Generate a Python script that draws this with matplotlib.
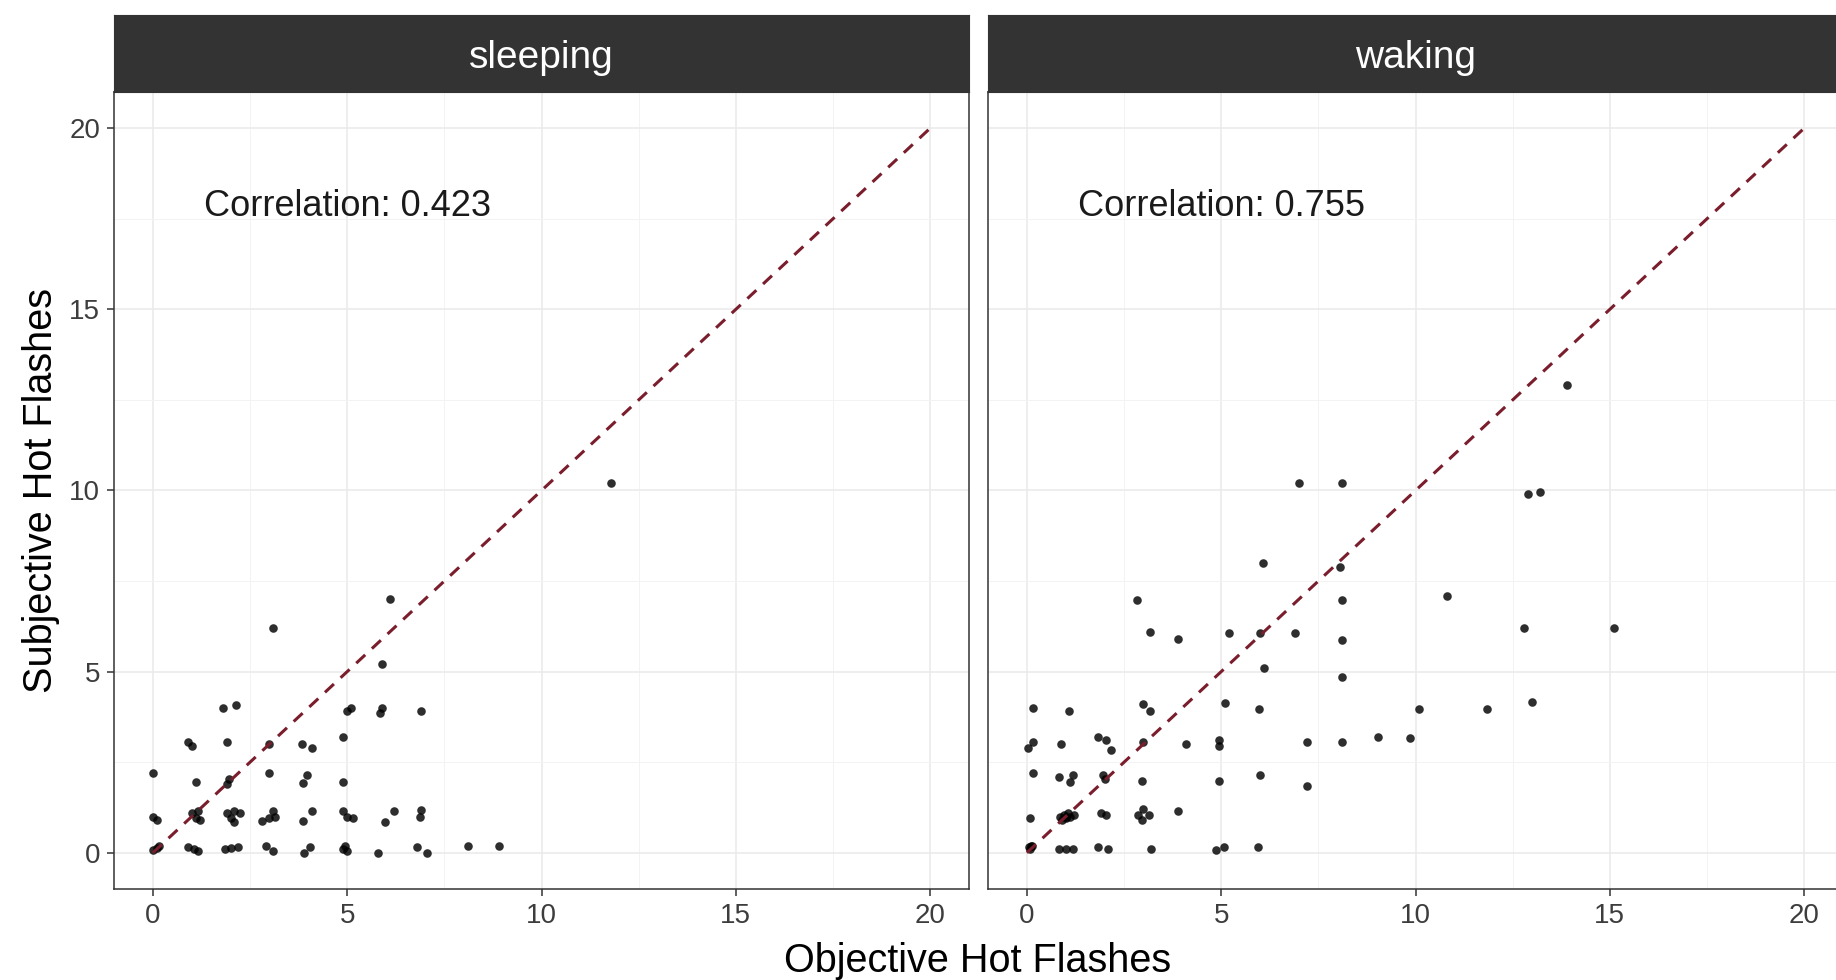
import matplotlib
matplotlib.use('Agg')
import matplotlib.pyplot as plt
from matplotlib.ticker import MultipleLocator

plt.rcParams['font.family'] = ['Liberation Sans', 'DejaVu Sans']

# sleeping panel (jittered points)
sleep_obj = [6.1, 3.1, 5.9, 1.8, 2.15, 5.0, 5.1, 5.9, 5.85, 6.9,
             0.9, 1.0, 1.9, 3.0, 3.85, 4.1, 4.9, 0.0, 1.1, 1.95,
             1.9, 3.0, 3.97, 3.87, 4.9, 0.0, 0.1, 1.0, 1.15, 1.2,
             1.1, 1.9, 2.1, 2.25, 2.0, 2.1, 2.8, 3.0, 3.1, 3.15,
             3.87, 4.1, 4.9, 5.0, 5.15, 5.97, 6.2, 6.9, 6.88,
             0.0, 0.1, 0.15, 0.9, 1.05, 1.15, 1.85, 2.0, 2.2, 2.9, 3.1,
             3.9, 4.05, 4.9, 4.95, 5.0, 5.8, 6.8, 7.05, 8.1, 8.9, 11.8]
sleep_subj = [7.0, 6.2, 5.2, 4.0, 4.07, 3.9, 4.0, 4.0, 3.85, 3.9,
              3.05, 2.95, 3.05, 3.0, 3.0, 2.9, 3.2, 2.2, 1.95, 2.05,
              1.9, 2.2, 2.15, 1.92, 1.95, 0.98, 0.9, 1.1, 1.15, 0.9,
              0.95, 1.1, 1.15, 1.1, 0.95, 0.85, 0.88, 0.95, 1.15, 1.0,
              0.87, 1.15, 1.15, 0.98, 0.97, 0.84, 1.15, 1.17, 0.98,
              0.08, 0.12, 0.18, 0.15, 0.1, 0.05, 0.1, 0.12, 0.15, 0.2, 0.05,
              0.0, 0.15, 0.1, 0.2, 0.05, 0.0, 0.15, 0.0, 0.2, 0.2, 10.2]

# waking panel
wake_obj = [6.07, 8.05, 2.83, 8.1, 10.8, 3.17, 3.9, 5.2, 6.0, 6.9,
            8.1, 6.1, 8.1, 0.15, 1.08, 3.0, 3.17, 5.1, 5.97, 10.1,
            11.85, 0.03, 0.15, 0.87, 1.83, 2.03, 2.16, 3.0, 4.1, 4.95,
            4.95, 7.2, 8.1, 9.03, 9.87, 0.17, 0.83, 1.18, 1.12, 2.0,
            1.95, 2.96, 4.95, 6.0, 7.2, 0.08,
            0.85, 0.95, 1.0, 1.05, 1.1, 1.2, 0.9, 1.0,
            1.9, 2.03, 2.85, 2.95, 3.0, 3.15, 3.9,
            0.05, 0.1, 0.08, 0.12, 0.83, 1.0, 1.18, 1.83, 2.1, 3.2,
            4.87, 5.07, 5.95, 12.8, 15.1, 13.0, 7.0, 8.1, 12.9, 13.2, 13.9]
wake_subj = [8.0, 7.9, 6.97, 6.97, 7.1, 6.1, 5.9, 6.07, 6.07, 6.07,
             5.87, 5.1, 4.85, 4.0, 3.9, 4.1, 3.9, 4.13, 3.96, 3.96,
             3.96, 2.9, 3.05, 3.0, 3.2, 3.1, 2.83, 3.05, 3.0, 3.1,
             2.95, 3.05, 3.07, 3.2, 3.17, 2.2, 2.1, 2.15, 1.95, 2.05,
             2.15, 1.97, 1.97, 2.15, 1.85, 0.97,
             1.0, 1.05, 0.95, 1.1, 1.0, 1.05, 0.9, 1.0,
             1.1, 1.05, 1.05, 0.9, 1.2, 1.05, 1.15,
             0.15, 0.2, 0.1, 0.18, 0.1, 0.1, 0.1, 0.17, 0.1, 0.1,
             0.07, 0.15, 0.15, 6.2, 6.2, 4.15, 10.2, 10.2, 9.9, 9.95, 12.9]

panel_names = ['sleeping', 'waking']
correlations = [0.423, 0.755]
ticks = [0, 5, 10, 15, 20]

fig = plt.figure(figsize=(18.36, 9.8), dpi=100)

W, H = 1836.0, 980.0
panel_bottom = 1 - 889 / H
panel_h = 797 / H
strip_bottom = 1 - 92 / H
strip_h = 77 / H
panel_w = 855 / W
lefts = [114 / W, 988 / W]

data = [(sleep_obj, sleep_subj), (wake_obj, wake_subj)]

for i in range(2):
    ax = fig.add_axes([lefts[i], panel_bottom, panel_w, panel_h])
    xs, ys = data[i]
    ax.scatter(xs, ys, s=38, color='black', alpha=0.82, linewidths=0, zorder=3)
    ax.plot([0, 20], [0, 20], color='#7a1d2c', lw=2.2, dashes=(4, 3), zorder=4)
    ax.text(5, 17.85, f'Correlation: {correlations[i]}', ha='center', va='center',
            fontsize=26, color='#1a1a1a', zorder=5)

    ax.set_xlim(-1, 21)
    ax.set_ylim(-1, 21)
    ax.set_xticks(ticks)
    ax.set_yticks(ticks)
    ax.xaxis.set_minor_locator(MultipleLocator(2.5))
    ax.yaxis.set_minor_locator(MultipleLocator(2.5))
    ax.grid(which='major', color='#EBEBEB', lw=1.2, zorder=0)
    ax.grid(which='minor', color='#F3F3F3', lw=0.7, zorder=0)
    ax.set_axisbelow(True)
    ax.tick_params(which='minor', length=0)
    ax.tick_params(which='major', length=5, width=1.1, color='#333333',
                   labelsize=20, labelcolor='#3d3d3d', pad=5)
    for sp in ax.spines.values():
        sp.set_color('#333333')
        sp.set_linewidth(1.1)
    if i == 1:
        ax.tick_params(axis='y', left=False, labelleft=False)

    strip = fig.add_axes([lefts[i], strip_bottom, panel_w, strip_h])
    strip.set_facecolor('#333333')
    strip.set_xticks([])
    strip.set_yticks([])
    for sp in strip.spines.values():
        sp.set_color('#333333')
    strip.text(0.5, 0.44, panel_names[i], transform=strip.transAxes,
               ha='center', va='center', fontsize=28, color='white')

fig.text(978 / W, 1 - 961 / H, 'Objective Hot Flashes', ha='center', va='center',
         fontsize=28.5, color='black')
fig.text(41 / W, (panel_bottom + panel_h / 2), 'Subjective Hot Flashes', ha='center',
         va='center', rotation=90, fontsize=28.5, color='black')

fig.savefig('out.png', dpi=100)
